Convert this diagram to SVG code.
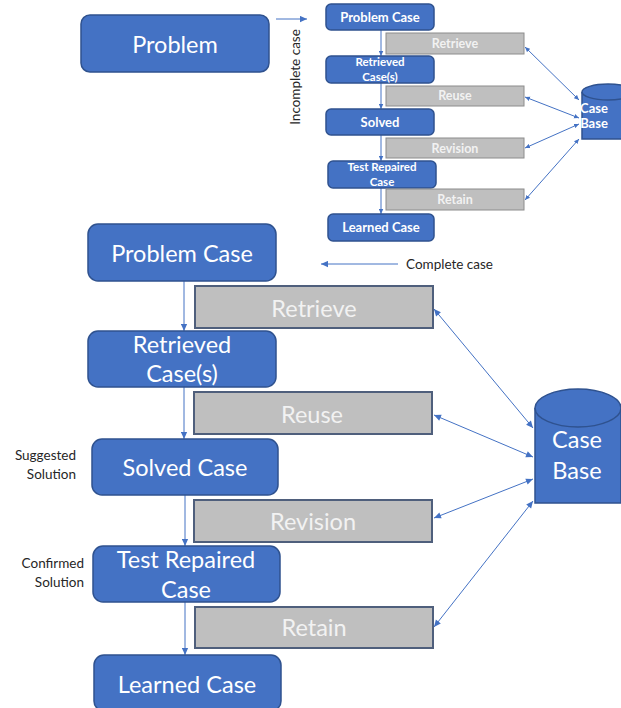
<svg xmlns="http://www.w3.org/2000/svg" width="621" height="708" viewBox="0 0 621 708">
  <defs>
    <style>
      .blue { fill: #4472c4; stroke: #2f528f; stroke-width: 1.5; }
      .gray { fill: #bfbfbf; stroke: #4f5f7c; stroke-width: 2; }
      .gray-s { fill: #bfbfbf; stroke: #8c8c8c; stroke-width: 1; }
      .cyl { fill: #4472c4; stroke: #2f528f; stroke-width: 1.5; }
      text { font-family: Lato, "Open Sans", "Liberation Sans", sans-serif; }
      .t-big { fill: #ffffff; font-size: 23.5px; text-anchor: middle; }
      .t-gray { fill: #f2f2f2; font-size: 23.5px; text-anchor: middle; }
      .t-sm { fill: #ffffff; font-size: 13px; font-weight: bold; text-anchor: middle; }
      .t-sm2 { fill: #ffffff; font-size: 11.5px; font-weight: bold; text-anchor: middle; }
      .t-gray-sm { fill: #f2f2f2; font-size: 12.5px; font-weight: bold; text-anchor: middle; }
      .t-note { fill: #262626; font-size: 13.5px; }
      .link { fill: none; stroke: #4472c4; stroke-width: 1; }
    </style>
    <marker id="head" viewBox="0 0 10 10" refX="10" refY="5" markerWidth="8" markerHeight="7" markerUnits="userSpaceOnUse" orient="auto-start-reverse">
      <path d="M0,0.5 L10,5 L0,9.5 z" fill="#4472c4"/>
    </marker>
    <marker id="head-s" viewBox="0 0 10 10" refX="10" refY="5" markerWidth="5" markerHeight="5" markerUnits="userSpaceOnUse" orient="auto-start-reverse">
      <path d="M0,0.5 L10,5 L0,9.5 z" fill="#4472c4"/>
    </marker>
  </defs>

  <!-- connectors -->
  <g id="connectors">
    <!-- problem to compact cycle -->
    <line class="link" x1="276" y1="19" x2="307" y2="19" marker-end="url(#head)"/>
    <!-- compact cycle: vertical flow -->
    <line class="link" x1="381" y1="30" x2="381" y2="56" marker-end="url(#head-s)"/>
    <line class="link" x1="381" y1="83" x2="381" y2="109" marker-end="url(#head-s)"/>
    <line class="link" x1="381" y1="135" x2="381" y2="161" marker-end="url(#head-s)"/>
    <line class="link" x1="381" y1="188" x2="381" y2="214" marker-end="url(#head-s)"/>
    <!-- compact cycle: steps to case base -->
    <line class="link" x1="525" y1="47" x2="579" y2="100" marker-start="url(#head-s)" marker-end="url(#head-s)"/>
    <line class="link" x1="525" y1="97" x2="579" y2="118" marker-start="url(#head-s)" marker-end="url(#head-s)"/>
    <line class="link" x1="525" y1="148" x2="579" y2="124" marker-start="url(#head-s)" marker-end="url(#head-s)"/>
    <line class="link" x1="525" y1="200" x2="579" y2="139" marker-start="url(#head-s)" marker-end="url(#head-s)"/>
    <!-- complete case back-arrow -->
    <line class="link" x1="398" y1="264" x2="321" y2="264" marker-end="url(#head)"/>
    <!-- main cycle: vertical flow -->
    <line class="link" x1="184" y1="281" x2="184" y2="331" marker-end="url(#head)"/>
    <line class="link" x1="184" y1="387" x2="184" y2="439" marker-end="url(#head)"/>
    <line class="link" x1="185" y1="495" x2="185" y2="546" marker-end="url(#head)"/>
    <line class="link" x1="185" y1="602" x2="185" y2="655" marker-end="url(#head)"/>
    <!-- main cycle: steps to case base -->
    <line class="link" x1="434" y1="309" x2="533" y2="428" marker-start="url(#head)" marker-end="url(#head)"/>
    <line class="link" x1="434" y1="415" x2="533" y2="457" marker-start="url(#head)" marker-end="url(#head)"/>
    <line class="link" x1="434" y1="518" x2="533" y2="479" marker-start="url(#head)" marker-end="url(#head)"/>
    <line class="link" x1="434" y1="627" x2="533" y2="501" marker-start="url(#head)" marker-end="url(#head)"/>
  </g>

  <!-- top-left start node -->
  <g id="problem">
    <rect class="blue" x="81" y="15" width="188" height="57" rx="9"/>
    <text class="t-big" x="175" y="53">Problem</text>
  </g>
  <g id="label-incomplete">
    <text class="t-note" font-size="14.5" text-anchor="middle" transform="translate(300,77) rotate(-90)">Incomplete case</text>
  </g>

  <!-- compact cycle -->
  <g id="s-problem-case">
    <rect class="blue" x="326" y="4" width="108" height="26" rx="5"/>
    <text class="t-sm" x="380" y="22">Problem Case</text>
  </g>
  <g id="s-retrieve">
    <rect class="gray-s" x="386" y="33" width="138" height="21"/>
    <text class="t-gray-sm" x="455" y="48">Retrieve</text>
  </g>
  <g id="s-retrieved">
    <rect class="blue" x="326" y="56" width="108" height="27" rx="5"/>
    <text class="t-sm2" x="380" y="66">Retrieved</text>
    <text class="t-sm2" x="380" y="80.5">Case(s)</text>
  </g>
  <g id="s-reuse">
    <rect class="gray-s" x="386" y="86" width="138" height="20"/>
    <text class="t-gray-sm" x="455" y="100">Reuse</text>
  </g>
  <g id="s-solved">
    <rect class="blue" x="326" y="109" width="108" height="26" rx="5"/>
    <text class="t-sm" x="380" y="127">Solved</text>
  </g>
  <g id="s-revision">
    <rect class="gray-s" x="386" y="138" width="138" height="20"/>
    <text class="t-gray-sm" x="455" y="153">Revision</text>
  </g>
  <g id="s-test-repaired">
    <rect class="blue" x="328" y="161" width="108" height="27" rx="5"/>
    <text class="t-sm2" x="382" y="171">Test Repaired</text>
    <text class="t-sm2" x="382" y="185.5">Case</text>
  </g>
  <g id="s-retain">
    <rect class="gray-s" x="386" y="189" width="138" height="21"/>
    <text class="t-gray-sm" x="455" y="204">Retain</text>
  </g>
  <g id="s-learned">
    <rect class="blue" x="328" y="214" width="106" height="27" rx="5"/>
    <text class="t-sm" x="381" y="232">Learned Case</text>
  </g>
  <g id="s-case-base">
    <path class="cyl" d="M582,92 L582,139 L634,139 L634,92"/>
    <ellipse class="cyl" cx="608" cy="92" rx="26" ry="8"/>
    <text class="t-sm" x="594" y="113" text-anchor="start">Case</text>
    <text class="t-sm" x="594" y="128" text-anchor="start">Base</text>
  </g>

  <g id="label-complete">
    <text class="t-note" x="406" y="269">Complete case</text>
  </g>

  <!-- main cycle -->
  <g id="problem-case">
    <rect class="blue" x="88" y="224" width="188" height="57" rx="10"/>
    <text class="t-big" x="182" y="262">Problem Case</text>
  </g>
  <g id="retrieve">
    <rect class="gray" x="195" y="286" width="238" height="42"/>
    <text class="t-gray" x="314" y="317">Retrieve</text>
  </g>
  <g id="retrieved-cases">
    <rect class="blue" x="88" y="331" width="188" height="56" rx="10"/>
    <text class="t-big" x="182" y="353">Retrieved</text>
    <text class="t-big" x="182" y="382">Case(s)</text>
  </g>
  <g id="reuse">
    <rect class="gray" x="194" y="392" width="238" height="42"/>
    <text class="t-gray" x="312" y="423">Reuse</text>
  </g>
  <g id="solved-case">
    <rect class="blue" x="92" y="439" width="186" height="56" rx="10"/>
    <text class="t-big" x="185" y="476">Solved Case</text>
  </g>
  <g id="revision">
    <rect class="gray" x="194" y="500" width="238" height="42"/>
    <text class="t-gray" x="313" y="530">Revision</text>
  </g>
  <g id="test-repaired-case">
    <rect class="blue" x="93" y="546" width="187" height="56" rx="10"/>
    <text class="t-big" x="186" y="568">Test Repaired</text>
    <text class="t-big" x="186" y="598">Case</text>
  </g>
  <g id="retain">
    <rect class="gray" x="195" y="607" width="238" height="41"/>
    <text class="t-gray" x="314" y="636">Retain</text>
  </g>
  <g id="learned-case">
    <rect class="blue" x="94" y="655" width="187" height="56" rx="10"/>
    <text class="t-big" x="187" y="693">Learned Case</text>
  </g>
  <g id="case-base">
    <path class="cyl" d="M535,408 L535,503 L621,503 L621,408"/>
    <ellipse class="cyl" cx="578" cy="408" rx="43" ry="19"/>
    <text class="t-big" x="577" y="448">Case</text>
    <text class="t-big" x="577" y="479">Base</text>
  </g>

  <!-- side notes -->
  <g id="note-suggested">
    <text class="t-note" x="76" y="460" text-anchor="end">Suggested</text>
    <text class="t-note" x="76" y="479" text-anchor="end">Solution</text>
  </g>
  <g id="note-confirmed">
    <text class="t-note" x="84" y="568" text-anchor="end">Confirmed</text>
    <text class="t-note" x="84" y="587" text-anchor="end">Solution</text>
  </g>
</svg>
